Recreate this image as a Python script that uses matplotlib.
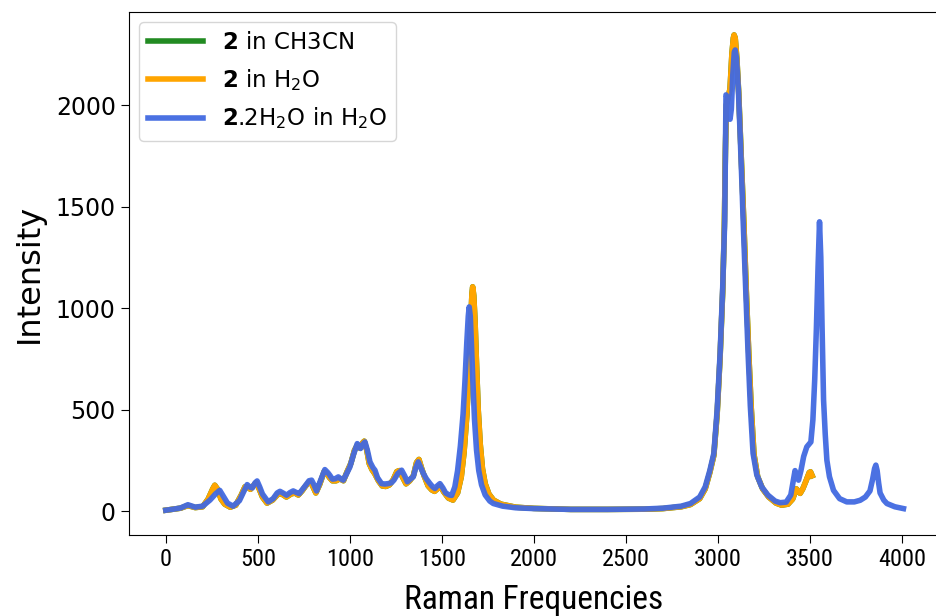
import matplotlib
matplotlib.use("Agg")
import matplotlib.pyplot as plt
from matplotlib import font_manager

# 2.2H2O in H2O (blue)
blue_freq = [0, 40, 80, 120, 160, 200, 240, 270, 293, 315, 335, 365, 400, 425, 442, 458, 470, 485,
             496, 510, 525, 556, 583, 605, 620, 640, 656, 675, 692, 710, 725, 745, 760, 778, 792,
             805, 819, 840, 864, 880, 891, 905, 920, 937, 950, 964, 985, 1000, 1020, 1040, 1050,
             1058, 1070, 1082, 1095, 1109, 1125, 1136, 1150, 1172, 1190, 1208, 1225, 1239, 1260,
             1281, 1297, 1312, 1330, 1344, 1358, 1371, 1385, 1399, 1415, 1435, 1450, 1462, 1475,
             1489, 1505, 1520, 1540, 1553, 1570, 1585, 1600, 1615, 1625, 1635, 1643, 1648, 1654,
             1660, 1668, 1677, 1688, 1700, 1715, 1735, 1760, 1779, 1830, 1900, 2000, 2200, 2400,
             2600, 2700, 2800, 2850, 2900, 2930, 2955, 2977, 2995, 3011, 3025, 3036, 3040, 3043,
             3050, 3060, 3065, 3072, 3080, 3088, 3093, 3100, 3110, 3120, 3130, 3136, 3150, 3163,
             3175, 3190, 3210, 3237, 3270, 3310, 3337, 3370, 3395, 3410, 3418, 3428, 3437, 3450,
             3465, 3482, 3504, 3515, 3525, 3534, 3543, 3551, 3558, 3565, 3573, 3582, 3591, 3605,
             3627, 3660, 3699, 3740, 3772, 3800, 3825, 3840, 3850, 3857, 3864, 3872, 3880, 3900,
             3917, 3960, 4007]
blue_int = [5, 10, 16, 32, 20, 25, 55, 85, 103, 70, 40, 25, 52, 100, 131, 118, 115, 140,
            149, 120, 85, 46, 62, 90, 98, 88, 79, 92, 100, 92, 87, 110, 128, 150, 153,
            130, 100, 150, 205, 190, 177, 158, 160, 169, 160, 153, 190, 218, 280, 333, 320,
            309, 330, 341, 300, 243, 215, 202, 165, 136, 134, 136, 140, 153, 185,
            202, 175, 145, 160, 169, 215, 243, 215, 186, 160, 136, 120, 112, 125,
            136, 115, 90, 80, 78, 120, 200, 320, 480, 640, 830, 960, 1006, 960,
            830, 640, 450, 300, 200, 130, 80, 50, 38, 25, 17, 13, 9, 9,
            11, 15, 25, 38, 70, 120, 200, 285, 500, 777, 1100, 1433, 1800, 2050,
            2040, 1960, 1930, 1980, 2150, 2260, 2271, 2230, 2080, 1850, 1600, 1433, 1100, 777,
            520, 285, 180, 120, 80, 50, 42, 45, 80, 160, 200, 175, 153, 200,
            270, 317, 341, 450, 650, 900, 1200, 1425, 1250, 900, 547, 380, 251, 170,
            103, 62, 46, 46, 54, 70, 100, 160, 210, 227, 200, 140, 90, 55,
            38, 22, 13]

# 2 in H2O (orange)
h2o_freq = [0, 40, 80, 120, 160, 200, 230, 255, 266, 280, 300, 320, 350, 380, 410, 430, 445, 460,
            475, 490, 505, 525, 550, 580, 610, 630, 655, 680, 700, 720, 740, 760, 780, 795, 815,
            835, 860, 875, 890, 905, 925, 945, 965, 985, 1005, 1025, 1040, 1055, 1068, 1078, 1092,
            1105, 1120, 1135, 1155, 1175, 1195, 1215, 1235, 1255, 1268, 1285, 1305, 1325, 1345,
            1362, 1375, 1390, 1405, 1425, 1445, 1460, 1475, 1490, 1510, 1535, 1560, 1585, 1605,
            1620, 1635, 1647, 1657, 1663, 1667, 1673, 1680, 1688, 1697, 1708, 1720, 1735, 1755,
            1780, 1820, 1900, 2000, 2200, 2400, 2600, 2700, 2800, 2850, 2900, 2930, 2955, 2977,
            2995, 3011, 3025, 3034, 3040, 3045, 3055, 3065, 3075, 3083, 3087, 3093, 3102, 3112,
            3122, 3132, 3140, 3153, 3167, 3180, 3195, 3215, 3242, 3275, 3315, 3345, 3380, 3405,
            3425, 3435, 3446, 3460, 3478, 3495, 3502, 3511]
h2o_int = [5, 10, 15, 28, 18, 22, 60, 110, 128, 110, 60, 35, 20, 30, 80, 120, 118, 108,
           125, 140, 115, 70, 40, 55, 85, 85, 70, 85, 90, 80, 100, 125, 145, 130, 90,
           130, 195, 185, 165, 150, 150, 160, 150, 195, 235, 300, 325, 310, 335, 345, 300,
           235, 205, 185, 150, 125, 122, 130, 155, 195, 200, 170, 135, 150, 175,
           240, 255, 210, 170, 125, 105, 98, 110, 125, 95, 65, 55, 90, 170,
           290, 470, 700, 950, 1070, 1105, 1060, 930, 720, 500, 330, 210, 135, 85,
           55, 35, 20, 14, 9, 9, 10, 13, 22, 33, 62, 110, 190, 275,
           480, 760, 1080, 1400, 1780, 2000, 2040, 2080, 2250, 2330, 2345, 2330, 2230, 2060,
           1830, 1600, 1420, 1090, 770, 510, 280, 170, 110, 70, 40, 30, 35, 60,
           110, 100, 88, 110, 150, 190, 194, 175]

# 2 in CH3CN (green) - lies under the orange trace
ch3cn_freq = list(h2o_freq)
ch3cn_int = list(h2o_int)

labels = [r"$\mathbf{2}$ in CH3CN", r"$\mathbf{2}$ in H$_2$O", r"$\mathbf{2}$.2H$_2$O in H$_2$O"]

# pick a narrow face for the x axis text if one is installed
names = set(f.name for f in font_manager.fontManager.ttflist)
narrow = "DejaVu Sans"
for cand in ["Liberation Sans Narrow", "DejaVu Sans Condensed", "Roboto Condensed", "Open Sans Condensed"]:
    if cand in names:
        narrow = cand
        break

fig = plt.figure(figsize=(9.36, 6.16), dpi=100)
ax = fig.add_axes([0.1378, 0.1315, 0.8654, 0.849])

ax.plot(ch3cn_freq, ch3cn_int, color="forestgreen", lw=4, label=labels[0])
ax.plot(h2o_freq, h2o_int, color="orange", lw=4, label=labels[1])
ax.plot(blue_freq, blue_int, color="royalblue", lw=4, alpha=0.95, label=labels[2])

ax.set_xlim(-200, 4200)
ax.set_ylim(-117, 2458)
ax.set_xticks([0, 500, 1000, 1500, 2000, 2500, 3000, 3500, 4000])
ax.set_yticks([0, 500, 1000, 1500, 2000])
ax.tick_params(axis="y", labelsize=17, length=6)
ax.tick_params(axis="x", length=6)
for t in ax.get_xticklabels():
    t.set_fontsize(17.5)
    t.set_family(narrow)

ax.set_ylabel("Intensity", fontsize=23, labelpad=8)
ax.set_xlabel("Raman Frequencies", fontsize=24, family=narrow, labelpad=9)

leg = ax.legend(loc="upper left", fontsize=16.5, handlelength=2.4, labelspacing=0.55,
                borderaxespad=0.45)
for h in leg.get_lines():
    h.set_linewidth(4)

fig.savefig("out.png", dpi=100)
